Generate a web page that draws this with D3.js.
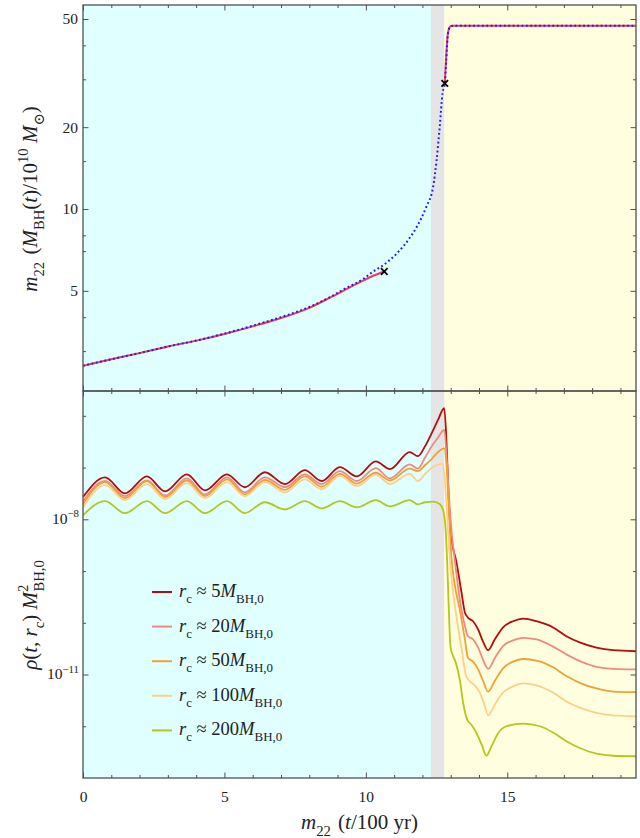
<!DOCTYPE html>
<meta charset="utf-8">
<script src="https://d3js.org/d3.v7.min.js"></script>
<style>
  body { margin: 0; background: #fff; }
  text { font-family: "Liberation Serif", "DejaVu Serif", serif; fill: #222; white-space: pre; }
</style>
<div id="chart"></div>
<script>
// ---------- data ----------
// top panel: m22 M_BH(t) / 1e10 Msun
const massNumT = [0, 1, 2, 3, 4, 5, 6, 7, 8, 8.7, 9.3, 9.9, 10.26, 10.65, 11.08, 11.5, 11.8, 12.14, 12.38, 12.5, 12.61, 12.71, 12.79, 12.84, 12.9, 12.97, 13.05, 19.55];
const massNumM = [2.65, 2.8, 2.95, 3.12, 3.28, 3.48, 3.72, 4.0, 4.36, 4.72, 5.12, 5.52, 5.89, 6.25, 6.84, 7.7, 8.6, 10.2, 12.1, 15.1, 20, 26.6, 29, 35, 44, 46.6, 47.2, 47.2];
const massFitAT = [0, 1, 2, 3, 4.13, 5, 6, 7, 8, 8.73, 9.43, 9.9, 10.26, 10.65];
const massFitAM = [2.65, 2.8, 2.95, 3.12, 3.30, 3.47, 3.70, 3.97, 4.33, 4.72, 5.15, 5.45, 5.68, 5.89];
const massFitBT = [12.79, 12.85, 12.9, 12.99, 13.1, 19.55];
const massFitBM = [29, 38, 44.3, 47, 47.2, 47.2];
const markT = [10.65, 12.79];
const markM = [5.89, 29];

// phases (t ranges)
const phaseEdges = [0, 12.3, 12.78, 19.55];

// bottom panel: log10 of rho(t, r_c) M_BH,0^2
const tEarly = [0, 0.78, 1.48, 2.26, 2.9, 3.67, 4.31, 5.09, 5.72, 6.43, 7.14, 7.84, 8.44, 9.08, 9.68, 10.35, 10.85, 11.55, 11.84];
const rcLabels = ["5", "20", "50", "100", "200"];

const logRhoEarly = [
  [-7.57, -7.19, -7.50, -7.17, -7.46, -7.13, -7.44, -7.13, -7.38, -7.09, -7.32, -7.05, -7.26, -6.99, -7.17, -6.88, -7.03, -6.70, -6.78],
  [-7.65, -7.26, -7.55, -7.25, -7.54, -7.21, -7.52, -7.19, -7.48, -7.19, -7.38, -7.13, -7.32, -7.07, -7.26, -7.01, -7.21, -6.94, -7.02],
  [-7.71, -7.28, -7.59, -7.26, -7.57, -7.25, -7.55, -7.23, -7.52, -7.24, -7.43, -7.17, -7.37, -7.12, -7.31, -7.10, -7.25, -7.02, -7.07],
  [-7.77, -7.34, -7.63, -7.32, -7.61, -7.30, -7.59, -7.28, -7.55, -7.28, -7.48, -7.23, -7.42, -7.16, -7.36, -7.14, -7.32, -7.12, -7.26],
  [-7.92, -7.65, -7.88, -7.65, -7.88, -7.65, -7.88, -7.65, -7.88, -7.67, -7.81, -7.65, -7.79, -7.65, -7.77, -7.63, -7.75, -7.63, -7.71]
];
const tLate = [
  [12.1, 12.35, 12.55, 12.77, 12.85, 12.93, 13.0, 13.08, 13.18, 13.38, 13.50, 13.61, 13.79, 13.97, 14.14, 14.32, 14.56, 14.85, 15.20, 15.56, 16.03, 16.62, 17.09, 17.56, 18.15, 18.74, 19.55],
  [12.1, 12.35, 12.55, 12.77, 12.85, 12.95, 13.05, 13.14, 13.32, 13.50, 13.61, 13.79, 13.97, 14.14, 14.32, 14.56, 14.85, 15.20, 15.56, 16.03, 16.62, 17.09, 17.56, 18.15, 18.74, 19.55],
  [12.1, 12.35, 12.55, 12.77, 12.85, 12.94, 13.03, 13.14, 13.32, 13.50, 13.61, 13.79, 13.97, 14.14, 14.32, 14.56, 14.85, 15.20, 15.56, 16.03, 16.62, 17.09, 17.56, 18.15, 18.74, 19.55],
  [12.1, 12.4, 12.7, 12.8, 12.9, 12.97, 13.07, 13.22, 13.39, 13.53, 13.67, 13.85, 14.03, 14.19, 14.32, 14.56, 14.85, 15.20, 15.56, 16.03, 16.62, 17.09, 17.56, 18.15, 18.74, 19.55],
  [12.1, 12.38, 12.62, 12.73, 12.82, 12.88, 12.93, 12.99, 13.06, 13.18, 13.32, 13.44, 13.58, 13.73, 13.91, 14.09, 14.26, 14.44, 14.68, 14.97, 15.56, 16.15, 16.62, 17.09, 17.56, 18.15, 18.74, 19.55]
];
const logRhoLate = [
  [-6.58, -6.31, -6.08, -5.85, -6.5, -7.6, -8.25, -8.55, -8.77, -9.41, -9.80, -9.90, -9.97, -10.13, -10.36, -10.53, -10.32, -10.09, -9.97, -9.92, -9.97, -10.09, -10.26, -10.38, -10.48, -10.53, -10.55],
  [-6.80, -6.57, -6.42, -6.27, -6.75, -7.65, -8.35, -8.77, -9.55, -10.06, -10.26, -10.32, -10.48, -10.71, -10.89, -10.68, -10.45, -10.34, -10.29, -10.32, -10.46, -10.61, -10.74, -10.85, -10.89, -10.90],
  [-6.95, -6.82, -6.70, -6.63, -6.95, -7.9, -8.77, -9.26, -9.74, -10.32, -10.68, -10.75, -10.90, -11.12, -11.33, -11.12, -10.88, -10.75, -10.70, -10.73, -10.86, -11.03, -11.16, -11.27, -11.33, -11.34],
  [-7.12, -6.98, -6.93, -7.3, -8.2, -8.77, -9.35, -9.94, -10.52, -11.00, -11.13, -11.21, -11.35, -11.58, -11.79, -11.58, -11.35, -11.23, -11.17, -11.21, -11.35, -11.52, -11.64, -11.74, -11.79, -11.81],
  [-7.67, -7.66, -7.71, -7.82, -8.2, -8.9, -9.7, -10.45, -10.61, -10.77, -11.10, -11.55, -11.87, -11.97, -12.13, -12.35, -12.57, -12.39, -12.13, -12.00, -11.95, -12.00, -12.12, -12.29, -12.42, -12.53, -12.57, -12.58]
];

// axis ticks
const xMajor = [0, 5, 10, 15];
const xMinor = [1, 2, 3, 4, 6, 7, 8, 9, 11, 12, 13, 14, 16, 17, 18, 19];
const mMajor = [5, 10, 20, 50];
const mMinor = [3, 4, 7, 8, 15, 30, 40];
const rhoMajorExp = [-8, -11];
const rhoMinorExp = [-6, -7, -9, -10, -12];

// ---------- layout / style ----------
const W = 640, H = 838;
const L = 83, R = 636, T = 5, MID = 391, B = 778;
const phaseColors = ["#e0ffff", "#e5e5e5", "#ffffe0"];
const rcColors = ["#b40c0c", "#f08a80", "#f0a035", "#fdd08a", "#b2c81c"];
const frameColor = "#505050";

const svg = d3.select("#chart").append("svg")
  .attr("width", W).attr("height", H);

const x = d3.scaleLinear().domain([0, 19.55]).range([L, R]);
const yM = d3.scaleLog().domain([2.14, 56.3]).range([MID, T]);
const yR = d3.scaleLog().domain([1e-13, Math.pow(10, -5.52)]).range([B, MID]);

// rich text helper (italic, sub, sup)
function rich(sel, parts, size) {
  let shift = 0;
  parts.forEach(p => {
    const target = p.sub ? size * 0.32 : p.sup ? -size * 0.42 : 0;
    const ts = sel.append("tspan").text(p.s);
    if (target - shift) ts.attr("dy", target - shift);
    if (p.dx) ts.attr("dx", p.dx);
    shift = target;
    ts.style("font-size", (p.sub || p.sup) ? (size * 0.7) + "px" : size + "px");
    if (p.i) ts.style("font-style", "italic");
  });
}

// clip paths
const defs = svg.append("defs");
defs.append("clipPath").attr("id", "clipTop").append("rect")
  .attr("x", L).attr("y", T).attr("width", R - L).attr("height", MID - T);
defs.append("clipPath").attr("id", "clipBot").append("rect")
  .attr("x", L).attr("y", MID).attr("width", R - L).attr("height", B - MID);

// background phases
[[T, MID], [MID, B]].forEach(([y0, y1]) => {
  svg.append("g").selectAll("rect")
    .data(d3.pairs(phaseEdges))
    .join("rect")
      .attr("x", d => x(d[0]))
      .attr("width", d => x(d[1]) - x(d[0]))
      .attr("y", y0).attr("height", y1 - y0)
      .attr("fill", (d, i) => phaseColors[i]);
});

// ---------- top panel ----------
const lineM = d3.line().x(d => x(d[0])).y(d => yM(d[1])).curve(d3.curveMonotoneX);
const gTop = svg.append("g").attr("clip-path", "url(#clipTop)");

[[massFitAT, massFitAM], [massFitBT, massFitBM]].forEach(([tt, mm]) => {
  gTop.append("path")
    .attr("d", lineM(d3.zip(tt, mm)))
    .attr("fill", "none").attr("stroke", "#f03c5a")
    .attr("stroke-width", 2);
});

gTop.append("path")
  .attr("d", lineM(d3.zip(massNumT, massNumM)))
  .attr("fill", "none").attr("stroke", "#1a1aff")
  .attr("stroke-width", 2).attr("stroke-dasharray", "1.8,2.6");

gTop.selectAll(".mark")
  .data(d3.zip(markT, markM))
  .join("path")
    .attr("transform", d => `translate(${x(d[0])},${yM(d[1])})`)
    .attr("d", d3.symbol(d3.symbolTimes, 30)())
    .attr("stroke", "#000").attr("stroke-width", 1.8).attr("fill", "none");

// ---------- bottom panel ----------
const lineR = d3.line().x(d => x(d[0])).y(d => yR(Math.pow(10, d[1]))).curve(d3.curveMonotoneX);
const gBot = svg.append("g").attr("clip-path", "url(#clipBot)");

rcLabels.forEach((lab, i) => {
  const pts = d3.zip(tEarly.concat(tLate[i]), logRhoEarly[i].concat(logRhoLate[i]));
  gBot.append("path")
    .attr("d", lineR(pts))
    .attr("fill", "none").attr("stroke", rcColors[i])
    .attr("stroke-width", 1.8);
});

// legend
const legend = svg.append("g");
rcLabels.forEach((lab, i) => {
  const ly = 592 + i * 34.6;
  legend.append("line")
    .attr("x1", 152).attr("x2", 172).attr("y1", ly).attr("y2", ly)
    .attr("stroke", rcColors[i]).attr("stroke-width", 2);
  const t = legend.append("text").attr("x", 179).attr("y", ly + 5);
  rich(t, [
    {s: "r", i: 1}, {s: "c", sub: 1}, {s: " ≈ " + lab}, {s: "M", i: 1}, {s: "BH,0", sub: 1}
  ], 18.5);
});

// ---------- axes / ticks ----------
function ticks(axisFn, scale, vals, len, tx, ty) {
  svg.append("g")
    .attr("transform", `translate(${tx},${ty})`)
    .attr("color", frameColor)
    .call(axisFn(scale).tickValues(vals).tickSize(-len).tickFormat(""))
    .call(g => g.select(".domain").remove())
    .selectAll("line").attr("stroke-width", 1);
}
[T, MID].forEach(yy => {
  ticks(d3.axisTop, x, xMajor, 5.5, 0, yy);
  ticks(d3.axisTop, x, xMinor, 3, 0, yy);
});
[MID, B].forEach(yy => {
  ticks(d3.axisBottom, x, xMajor, 5.5, 0, yy);
  ticks(d3.axisBottom, x, xMinor, 3, 0, yy);
});
ticks(d3.axisLeft, yM, mMajor, 5.5, L, 0);
ticks(d3.axisLeft, yM, mMinor, 3, L, 0);
ticks(d3.axisRight, yM, mMajor, 5.5, R, 0);
ticks(d3.axisRight, yM, mMinor, 3, R, 0);
const rhoMajor = rhoMajorExp.map(e => Math.pow(10, e));
const rhoMinor = rhoMinorExp.map(e => Math.pow(10, e));
ticks(d3.axisLeft, yR, rhoMajor, 5.5, L, 0);
ticks(d3.axisLeft, yR, rhoMinor, 3, L, 0);
ticks(d3.axisRight, yR, rhoMajor, 5.5, R, 0);
ticks(d3.axisRight, yR, rhoMinor, 3, R, 0);

// tick labels
svg.append("g")
  .attr("transform", `translate(0,${B})`)
  .call(d3.axisBottom(x).tickValues(xMajor).tickSize(0).tickPadding(13).tickFormat(d3.format("d")))
  .call(g => g.select(".domain").remove())
  .selectAll("text").style("font-size", "15.5px").attr("fill", "#222");

svg.append("g")
  .attr("transform", `translate(${L},0)`)
  .call(d3.axisLeft(yM).tickValues(mMajor).tickSize(0).tickPadding(5).tickFormat(d3.format("d")))
  .call(g => g.select(".domain").remove())
  .selectAll("text").style("font-size", "15.5px").attr("fill", "#222");

svg.append("g")
  .attr("transform", `translate(${L},0)`)
  .call(d3.axisLeft(yR).tickValues(rhoMajor).tickSize(0).tickPadding(4).tickFormat(""))
  .call(g => g.select(".domain").remove())
  .selectAll("text")
    .attr("fill", "#222")
    .each(function(d, i) {
      const t = d3.select(this).text(null).attr("dy", "0.4em");
      rich(t, [{s: "10"}, {s: "−" + (-rhoMajorExp[i]), sup: 1}], 15.5);
    });

// frames
[[T, MID], [MID, B]].forEach(([y0, y1]) => {
  svg.append("rect")
    .attr("x", L).attr("y", y0).attr("width", R - L).attr("height", y1 - y0)
    .attr("fill", "none").attr("stroke", frameColor).attr("stroke-width", 1.3);
});

// axis titles
const xt = svg.append("text").attr("x", (L + R) / 2).attr("y", 829).attr("text-anchor", "middle");
rich(xt, [{s: "m", i: 1}, {s: "22", sub: 1}, {s: " (", dx: 2}, {s: "t", i: 1}, {s: "/100 yr)"}], 21);

const yt1 = svg.append("text")
  .attr("transform", `translate(37,199) rotate(-90)`).attr("text-anchor", "middle");
rich(yt1, [
  {s: "m", i: 1}, {s: "22", sub: 1}, {s: " (", dx: 2}, {s: "M", i: 1}, {s: "BH", sub: 1},
  {s: "("}, {s: "t", i: 1}, {s: ")/10"}, {s: "10", sup: 1}, {s: " "}, {s: "M", i: 1}, {s: "⊙", sub: 1}, {s: ")"}
], 21);

const yt2 = svg.append("text")
  .attr("transform", `translate(37,615) rotate(-90)`).attr("text-anchor", "middle");
rich(yt2, [
  {s: "ρ", i: 1}, {s: "("}, {s: "t", i: 1}, {s: ", "}, {s: "r", i: 1}, {s: "c", sub: 1},
  {s: ") "}, {s: "M", i: 1}, {s: "2", sup: 1}, {s: "BH,0", sub: 1, dx: -7}
], 21);
</script>
